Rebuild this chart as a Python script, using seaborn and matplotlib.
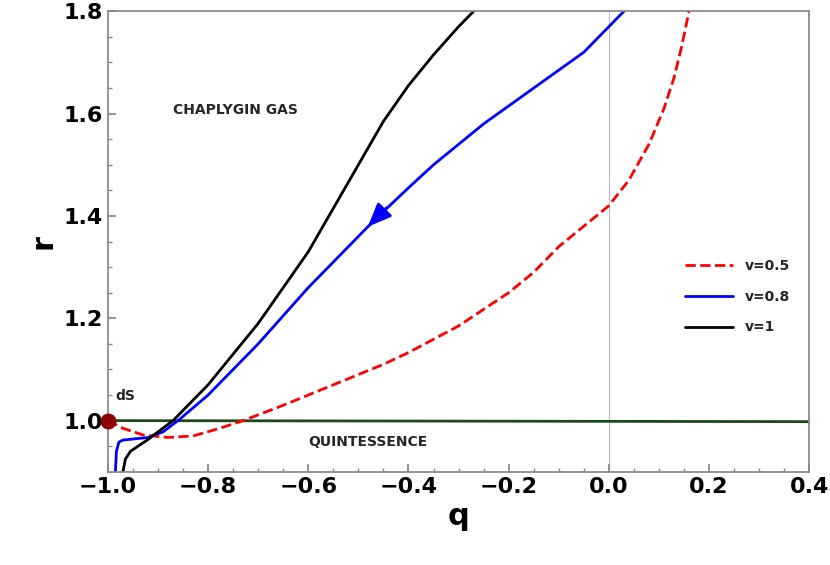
import matplotlib
matplotlib.use("Agg")
import matplotlib.pyplot as plt
import seaborn as sns

# red dashed, v=0.5
q_red = [-1.0, -0.97, -0.93, -0.88, -0.83, -0.78, -0.73, -0.65, -0.55, -0.45, -0.4, -0.3, -0.2, -0.15, -0.1, -0.05, 0.0, 0.04, 0.08, 0.11, 0.13, 0.145, 0.16]
r_red = [1.0, 0.985, 0.972, 0.967, 0.97, 0.984, 1.0, 1.03, 1.07, 1.11, 1.133, 1.185, 1.25, 1.29, 1.34, 1.38, 1.42, 1.47, 1.54, 1.61, 1.67, 1.73, 1.8]
# blue, v=0.8
q_blue = [-0.985, -0.983, -0.978, -0.97, -0.95, -0.92, -0.89, -0.86, -0.8, -0.7, -0.6, -0.47, -0.4, -0.35, -0.3, -0.25, -0.2, -0.15, -0.1, -0.05, 0.0, 0.03]
r_blue = [0.9, 0.94, 0.958, 0.962, 0.964, 0.967, 0.978, 1.0, 1.05, 1.15, 1.26, 1.39, 1.455, 1.5, 1.54, 1.58, 1.615, 1.65, 1.685, 1.72, 1.77, 1.8]
# black, v=1
q_black = [-0.97, -0.965, -0.955, -0.94, -0.92, -0.9, -0.87, -0.8, -0.7, -0.6, -0.55, -0.5, -0.45, -0.4, -0.35, -0.3, -0.27]
r_black = [0.9, 0.925, 0.94, 0.95, 0.963, 0.978, 1.0, 1.07, 1.19, 1.33, 1.415, 1.5, 1.585, 1.655, 1.715, 1.77, 1.8]
q_green = [-1.0, 0.4]
r_green = [1.0, 0.998]

sns.set_theme(style="ticks")
fig, ax = plt.subplots(figsize=(8.3, 5.65), dpi=100)
ax.axvline(0, color="#bbbbbb", lw=0.8, zorder=0)
sns.lineplot(x=q_green, y=r_green, color="#1a4a1a", lw=2, ax=ax)
sns.lineplot(x=q_red, y=r_red, color="red", lw=2, ls="--", ax=ax, label="v=0.5", sort=False)
sns.lineplot(x=q_blue, y=r_blue, color="blue", lw=2, ax=ax, label="v=0.8", sort=False)
sns.lineplot(x=q_black, y=r_black, color="black", lw=2, ax=ax, label="v=1", sort=False)
ax.annotate("", xy=(-0.485, 1.375), xytext=(-0.44, 1.42),
            arrowprops=dict(arrowstyle="-|>,head_width=0.5,head_length=1.2", color="blue", lw=2))
ax.scatter([-1.0], [1.0], s=110, color="#8b0000", zorder=5, clip_on=False)
ax.text(-0.985, 1.04, "dS", fontsize=10, fontweight="bold")
ax.text(-0.87, 1.6, "CHAPLYGIN GAS", fontsize=10, fontweight="bold")
ax.text(-0.6, 0.95, "QUINTESSENCE", fontsize=10, fontweight="bold")
ax.set_xlim(-1.0, 0.4)
ax.set_ylim(0.9, 1.8)
ax.set_xticks([-1.0, -0.8, -0.6, -0.4, -0.2, 0.0, 0.2, 0.4])
ax.set_yticks([1.0, 1.2, 1.4, 1.6, 1.8])
ax.set_xticks([x / 100 for x in range(-95, 40, 5)], minor=True)
ax.set_yticks([x / 100 for x in range(90, 180, 5)], minor=True)
ax.tick_params(labelsize=16, direction="in", colors="#888888", labelcolor="black")
ax.tick_params(which="minor", direction="in", length=3, colors="#888888")
for t in ax.get_xticklabels() + ax.get_yticklabels():
    t.set_fontweight("bold")
for s in ax.spines.values():
    s.set_color("#888888")
ax.set_xlabel("q", fontsize=22, fontweight="bold", color="black")
ax.set_ylabel("r", fontsize=22, fontweight="bold", color="black")
leg = ax.legend(loc="center right", bbox_to_anchor=(0.99, 0.38), frameon=False,
                prop={"weight": "bold", "size": 10}, handlelength=3.5, labelspacing=1.2)
plt.subplots_adjust(left=0.13, right=0.975, top=0.98, bottom=0.165)
fig.savefig("out.png")
